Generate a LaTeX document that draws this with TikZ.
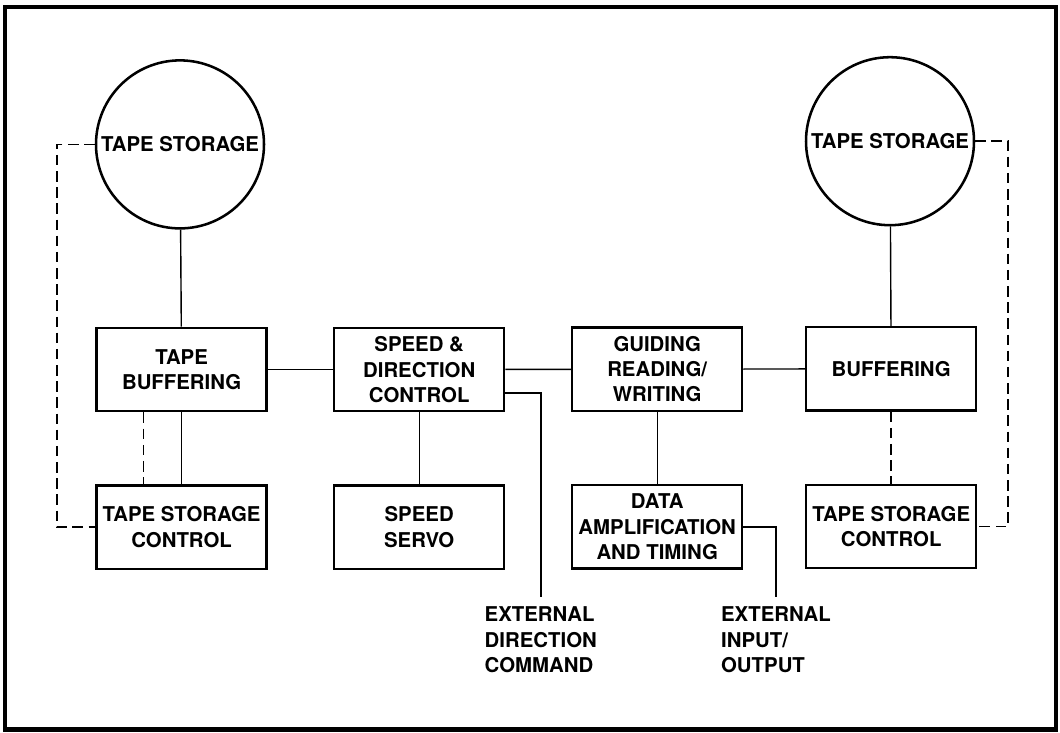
\documentclass[tikz,border=0pt]{standalone}
\usepackage{fontspec}
\setmainfont{TeX Gyre Heros}
\usetikzlibrary{positioning}

\begin{document}
\begin{tikzpicture}[
			node distance=3.94cm,
			block/.style={rectangle, draw, line width=1.8pt, align=center, inner sep=0pt, minimum width=4.25cm, minimum height=2.08cm, font=\bfseries\fontsize{14.5}{18}\selectfont},
			storage/.style={circle, draw, line width=1.8pt, inner sep=0pt, minimum size=4.2cm, font=\bfseries\fontsize{14.5}{18}\selectfont},
			extlabel/.style={align=left, anchor=north, inner sep=0pt, outer sep=0.25cm, font=\bfseries\fontsize{14.5}{18}\selectfont},
			link/.style={line width=1pt},
			dashlink/.style={line width=1.2pt, dash pattern=on 7.5pt off 4pt}
			]
			
			% Frame
			\useasboundingbox (0,0) rectangle (26.5,18.3);
			\draw[line width=3pt] (0.125,0.06) rectangle (26.4,18.125);
			
			% Tape storage
			\node[storage] (storeL) at (4.5,14.69) {TAPE STORAGE};
			\node[storage] (storeR) at (22.25,14.77) {TAPE STORAGE};
			
			% Upper row
			\node[block] (bufL) at (4.54,9.06) {TAPE \\ BUFFERING};
			\node[block] (speed) at (10.48,9.06) {SPEED \& \\ DIRECTION \\ CONTROL};
			\node[block] (guide) at (16.43,9.07) {GUIDING \\ READING/ \\ WRITING};
			\node[block] (bufR) at (22.28,9.08) {BUFFERING};
			
			% Lower row
			\node[block, below of=bufL] (tscL) {TAPE STORAGE \\ CONTROL};
			\node[block, below of=speed] (servo) {SPEED \\ SERVO};
			\node[block, below of=guide] (data) {DATA \\ AMPLIFICATION \\ AND TIMING};
			\node[block, below of=bufR] (tscR) {TAPE STORAGE \\ CONTROL};
			
			% External lines
			\node[extlabel] (extdir) at (13.52,3.375) {EXTERNAL \\ DIRECTION \\ COMMAND};
			\node[extlabel] (extio) at (19.4,3.375) {EXTERNAL \\ INPUT/ \\ OUTPUT};
			
			% Connections
			\draw[link] (storeL) -- (bufL);
			\draw[link] (bufL) -- (tscL);
			\draw[link] (bufL) -- (speed);
			\draw[link] (speed) -- (guide);
			\draw[link] (guide) -- (bufR);
			\draw[link] (storeR) -- (bufR);
			\draw[link] (speed) -- (servo);
			\draw[link] (guide) -- (data);
			\draw[link] ([yshift=-0.585cm]speed.east) -| (extdir.north);
			\draw[link] (data.east) -| (extio.north);
			
			% Dashed links
			\draw[dashlink] ([xshift=-0.95cm]bufL.south) -- ([xshift=-0.95cm]tscL.north);
			\draw[dashlink] (storeL.west) -- ++(-0.95,0) |- (tscL.west);
			\draw[dashlink] (bufR) -- (tscR);
			\draw[dashlink] (storeR.east) -- ++(0.825,0) |- (tscR.east);
			
		\end{tikzpicture}
\end{document}
